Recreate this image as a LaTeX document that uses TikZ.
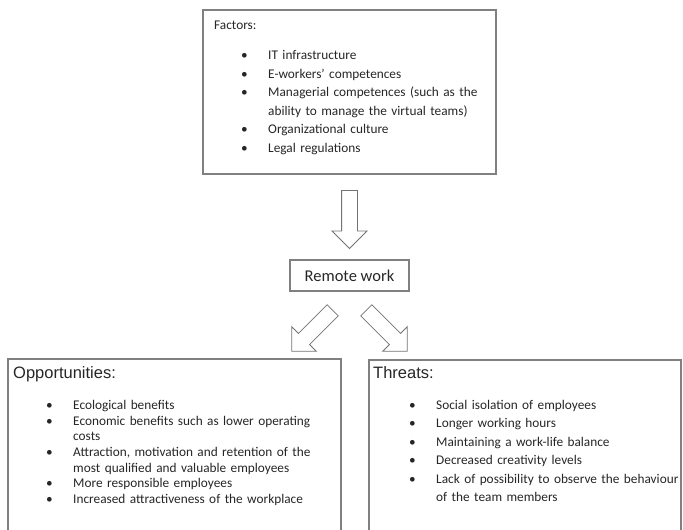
\documentclass[tikz,border=0pt]{standalone}
\usepackage{fontspec}
\setmainfont{Carlito}
\newfontfamily\arialfont{Liberation Sans}
\usetikzlibrary{shapes.arrows}

% bullet list: #1 = left margin, #2 = space above
\newenvironment{blist}[2]{%
  \begin{list}{\textbullet}{%
    \setlength{\leftmargin}{#1}\setlength{\labelsep}{20.5pt}%
    \setlength{\labelwidth}{10pt}\setlength{\itemsep}{0pt}%
    \setlength{\parsep}{0pt}\setlength{\topsep}{#2}\setlength{\partopsep}{0pt}}}%
  {\end{list}}

\begin{document}
\begin{tikzpicture}[
  x=1pt, y=-1pt,
  box/.style={draw=black!50, line width=1.1pt, inner sep=0pt},
  txt/.style={anchor=base west, inner sep=0pt, text=black!85, align=left},
  blockarrow/.style={single arrow, draw=black!55, line width=0.8pt, fill=white,
    minimum height=58pt, inner xsep=0pt, inner ysep=7.5pt,
    single arrow head extend=9.5pt, single arrow tip angle=90}
]
\useasboundingbox (0,0) rectangle (683,530);
\clip (0,0) rectangle (683,530);

% boxes
\node[box, minimum width=293pt, minimum height=164pt] (factors) at (349.5,92) {};
\node[box, minimum width=119pt, minimum height=31pt, text=black!85,
      font=\fontsize{16.5}{20}\selectfont] (remote) at (349.5,275.5) {Remote work};
\node[box, minimum width=333pt, minimum height=201pt] (opps) at (174.5,459.5) {};
\node[box, minimum width=312pt, minimum height=200pt] (threats) at (525,460) {};

% block arrows
\node[blockarrow, rotate=-90] (toremote) at (349.5,215.5) {};
\node[blockarrow, rotate=225] (toopps) at (315,328) {};
\node[blockarrow, rotate=-45] (tothreats) at (384,328) {};

% texts
\node[txt, text width=280pt, font=\fontsize{13.3}{18.6}\selectfont] (factorslist) at (214,29.4) {%
  Factors:
  \begin{blist}{54pt}{11.4pt}
  \item IT infrastructure
  \item E-workers' competences
  \item Managerial competences (such as the\\ability to manage the virtual teams)
  \item Organizational culture
  \item Legal regulations
  \end{blist}};
\node[txt, text width=330pt, font=\fontsize{13.3}{15.7}\selectfont] (oppslist) at (13,378.9) {%
  {\arialfont\fontsize{16.5}{20}\selectfont Opportunities:}
  \begin{blist}{60pt}{14.8pt}
  \item Ecological benefits
  \item Economic benefits such as lower operating\\costs
  \item Attraction, motivation and retention of the\\most qualified and valuable employees
  \item More responsible employees
  \item Increased attractiveness of the workplace
  \end{blist}};
\node[txt, text width=340pt, font=\fontsize{13.3}{18.4}\selectfont] (threatslist) at (373,378.9) {%
  {\arialfont\fontsize{16.5}{20}\selectfont Threats:}
  \begin{blist}{63pt}{12.1pt}
  \item Social isolation of employees
  \item Longer working hours
  \item Maintaining a work-life balance
  \item Decreased creativity levels
  \item Lack of possibility to observe the behaviour\\of the team members
  \end{blist}};
\end{tikzpicture}
\end{document}
